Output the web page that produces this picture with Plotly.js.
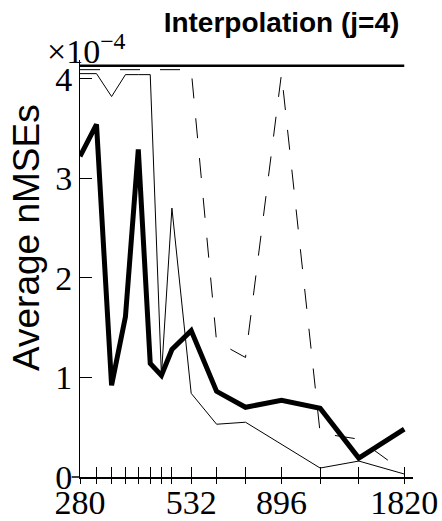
<!DOCTYPE html>
<html>
<head>
<meta charset="utf-8">
<script src="https://cdn.plot.ly/plotly-3.0.1.min.js"></script>
<style>html,body{margin:0;padding:0;background:#fff;}</style>
</head>
<body>
<div id="chart" style="width:442px;height:521px;"></div>
<script>
// sample sizes (x) and tick labels
const xValues = [280, 308, 336, 364, 392, 420, 448, 476, 532, 616, 728, 896, 1120, 1400, 1820];
const xTickLabels = ['280', '', '', '', '', '', '', '', '532', '', '', '896', '', '', '1820'];
const yTickValues = [0, 1, 2, 3, 4];
const yTickLabels = ['0', '1', '2', '3', '4'];

// series values (x 10^-4)
const seriesThick  = [3.22, 3.54, 0.92, 1.61, 3.29, 1.14, 1.02, 1.28, 1.47, 0.86, 0.70, 0.77, 0.69, 0.19, 0.48];
const seriesThin   = [4.05, 4.05, 3.82, 4.04, 4.04, 4.04, 1.02, 2.70, 0.84, 0.53, 0.55, 0.33, 0.09, 0.16, 0.03];
const seriesDashed = [4.09, 4.09, 4.09, 4.09, 4.09, 4.09, 4.09, 4.09, 4.09, 1.36, 1.20, 4.05, 0.44, 0.38, 0.05];
const seriesTop    = [4.13, 4.13, 4.13, 4.13, 4.13, 4.13, 4.13, 4.13, 4.13, 4.13, 4.13, 4.13, 4.13, 4.13, 4.13];

const xMin = Math.log10(280);
const xMax = 3.282;
const serif = "'Liberation Serif', 'DejaVu Serif', 'Times New Roman', serif";
const sans = "'Liberation Sans', Arial, sans-serif";

const traces = [
  {x: xValues, y: seriesTop, xaxis: 'x2', yaxis: 'y', mode: 'lines', line: {color: '#000', width: 2.5}, hoverinfo: 'skip'},
  {x: xValues, y: seriesDashed, mode: 'lines', line: {color: '#000', width: 1, dash: '20px,20px'}},
  {x: xValues, y: seriesThin, mode: 'lines', line: {color: '#000', width: 1}},
  {x: xValues, y: seriesThick, mode: 'lines', line: {color: '#000', width: 5}}
];

const layout = {
  width: 442, height: 521,
  margin: {l: 80, r: 29, t: 60, b: 44},
  paper_bgcolor: '#fff', plot_bgcolor: '#fff',
  showlegend: false,
  title: {
    text: '<b>Interpolation (j=4)</b>',
    font: {family: sans, size: 28, color: '#000'},
    x: 281.5 / 442, xanchor: 'center', xref: 'container',
    y: 1 - 22 / 521, yanchor: 'middle', yref: 'container'
  },
  xaxis: {
    type: 'log', range: [xMin, xMax],
    tickmode: 'array', tickvals: xValues, ticktext: xTickLabels,
    ticks: 'inside', ticklen: 10, tickwidth: 1, tickcolor: '#000',
    showline: true, linewidth: 2, linecolor: '#000',
    showgrid: false, zeroline: false,
    ticklabelstandoff: -6,
    tickfont: {family: serif, size: 34, color: '#000'}
  },
  xaxis2: {
    type: 'log', range: [xMin, xMax], overlaying: 'x', anchor: 'y', side: 'bottom',
    tickmode: 'array', tickvals: xValues, ticktext: xTickLabels,
    ticks: 'outside', ticklen: 6, tickwidth: 1, tickcolor: '#000',
    showticklabels: false, showline: false, showgrid: false, zeroline: false
  },
  yaxis: {
    range: [0, 4.187],
    tickmode: 'array', tickvals: yTickValues, ticktext: yTickLabels,
    ticks: 'inside', ticklen: 12, tickwidth: 1, tickcolor: '#000',
    showline: true, linewidth: 1, linecolor: '#000',
    showgrid: false, zeroline: false,
    tickfont: {family: serif, size: 34, color: '#000'}
  },
  shapes: [
    {type: 'line', xref: 'paper', yref: 'paper', x0: -0.025, x1: 0, y0: 0, y1: 0, line: {color: '#000', width: 1.5}}
  ],
  annotations: [
    {
      text: '×10<sup>−4</sup>',
      xref: 'paper', yref: 'paper', x: -0.105, y: 1, xanchor: 'left', yanchor: 'bottom', yshift: -12,
      showarrow: false, font: {family: serif, size: 34, color: '#000'}
    },
    {
      text: 'Average nMSEs', textangle: -90,
      xref: 'paper', yref: 'paper', x: (26 - 80) / 333, y: (477 - 238) / 417,
      xanchor: 'center', yanchor: 'middle',
      showarrow: false, font: {family: sans, size: 37, color: '#000'}
    }
  ]
};

Plotly.newPlot('chart', traces, layout, {displayModeBar: false, staticPlot: true});
</script>
</body>
</html>
